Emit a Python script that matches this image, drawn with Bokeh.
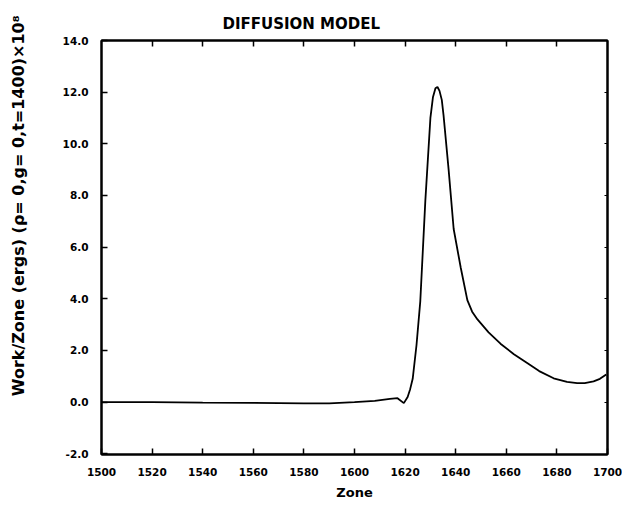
import numpy as np
from bokeh.plotting import figure
from bokeh.models import LinearAxis, FixedTicker, PrintfTickFormatter, Range1d, CustomJSTickFormatter
from bokeh.embed import file_html
from bokeh.resources import INLINE

title_text = "DIFFUSION MODEL"
x_label = "Zone"
y_label = "Work/Zone (ergs) (ρ= 0,g= 0,t=1400)×10⁸"

x_ticks = [1500, 1520, 1540, 1560, 1580, 1600, 1620, 1640, 1660, 1680, 1700]
y_ticks = [-2, 0, 2, 4, 6, 8, 10, 12, 14]

zone = [1500, 1520, 1540, 1560, 1580, 1590, 1600, 1608, 1614, 1617, 1619.5, 1621,
        1622, 1623, 1624.5, 1626, 1628, 1630, 1631, 1632, 1632.8, 1633.6, 1634.5, 1635.2, 1637.2,
        1639.2, 1642, 1644.6, 1646.5, 1648.6, 1653, 1657.7, 1663, 1668.4, 1673,
        1678.7, 1684, 1688, 1691, 1694.5, 1697, 1699.5]
work = [0.0, 0.0, -0.02, -0.03, -0.05, -0.05, 0.0, 0.05, 0.12, 0.15, -0.04, 0.2,
        0.5, 0.9, 2.2, 3.9, 7.8, 11.0, 11.8, 12.15, 12.2, 12.05, 11.7, 11.1, 9.0,
        6.7, 5.2, 3.95, 3.5, 3.2, 2.7, 2.26, 1.85, 1.5, 1.2,
        0.92, 0.78, 0.73, 0.73, 0.8, 0.9, 1.07]

FONT = "DejaVu Sans"

p = figure(width=622, height=502, output_backend="svg", toolbar_location=None,
           x_range=Range1d(1500, 1700), y_range=Range1d(-2.03, 14.0),
           min_border_left=101, min_border_right=15, min_border_top=40, min_border_bottom=43)

p.title.text = title_text
p.title.text_font = FONT
p.title.text_font_size = "15px"
p.title.text_font_style = "bold"
p.title.text_color = "black"
p.title.align = "left"
p.title.offset = 121
p.title.standoff = 16

p.xgrid.visible = False
p.ygrid.visible = False
p.outline_line_color = "black"
p.outline_line_width = 2

for ax in (p.xaxis[0], p.yaxis[0]):
    ax.major_tick_in = 6
    ax.major_tick_out = 0
    ax.minor_tick_line_color = None
    ax.axis_line_width = 2
    ax.major_tick_line_width = 1.5
    ax.major_label_text_font = FONT
    ax.major_label_text_font_size = "10.5px"
    ax.major_label_text_font_style = "bold"
    ax.major_label_text_color = "black"

p.xaxis[0].ticker = FixedTicker(ticks=x_ticks)
p.yaxis[0].ticker = FixedTicker(ticks=y_ticks)
p.yaxis[0].formatter = PrintfTickFormatter(format="%.1f")
p.xaxis[0].major_label_standoff = 13
p.yaxis[0].major_label_standoff = 13

p.xaxis[0].axis_label = x_label
p.xaxis[0].axis_label_text_font = FONT
p.xaxis[0].axis_label_text_font_size = "13px"
p.xaxis[0].axis_label_text_font_style = "bold"
p.xaxis[0].axis_label_text_color = "black"
p.xaxis[0].axis_label_standoff = 6

p.yaxis[0].axis_label = "\u00a0" * 15 + y_label
p.yaxis[0].axis_label_text_font = FONT
p.yaxis[0].axis_label_text_font_size = "16px"
p.yaxis[0].axis_label_text_font_style = "bold"
p.yaxis[0].axis_label_text_color = "black"
p.yaxis[0].axis_label_standoff = 32

top = LinearAxis(ticker=FixedTicker(ticks=[1520, 1540, 1560, 1580, 1600, 1620, 1640, 1660, 1680]),
                 formatter=CustomJSTickFormatter(code="return ''"), major_tick_in=6, major_tick_out=0,
                 minor_tick_line_color=None, axis_line_width=2, major_tick_line_width=1.5)
right = LinearAxis(ticker=FixedTicker(ticks=[0, 2, 4, 6, 8, 10, 12]),
                   formatter=CustomJSTickFormatter(code="return ''"), major_tick_in=3, major_tick_out=0,
                   minor_tick_line_color=None, axis_line_width=2, major_tick_line_width=1)
p.add_layout(top, "above")
p.add_layout(right, "right")

p.line(zone, work, line_color="black", line_width=1.8)

open("out.html", "w").write(file_html(p, INLINE))
